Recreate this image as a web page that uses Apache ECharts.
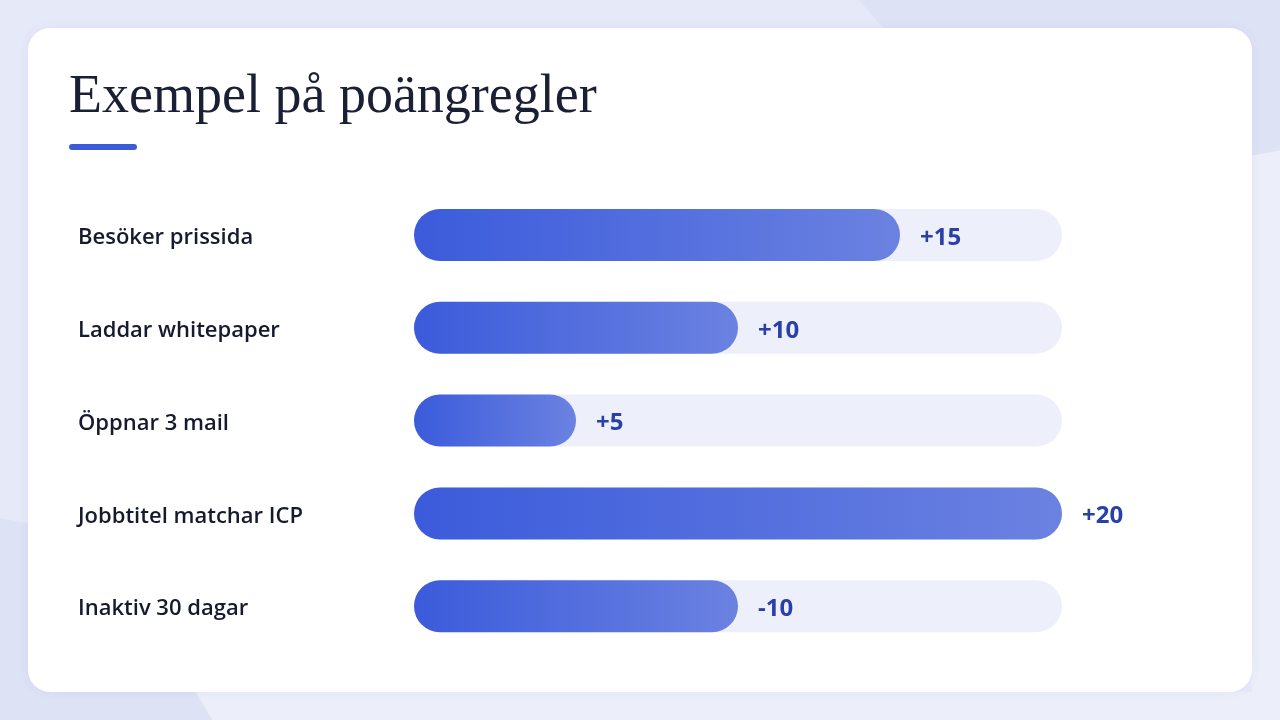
<!DOCTYPE html>
<html>
<head>
<meta charset="utf-8">
<script src="https://cdn.jsdelivr.net/npm/echarts@6/dist/echarts.min.js"></script>
<style>
html,body{margin:0;padding:0;background:#e6e9f8;}
#chart{width:1280px;height:720px;}
</style>
</head>
<body>
<div id="chart"></div>
<script>
const titleText = 'Exempel på poängregler';
const categories = ['Besöker prissida', 'Laddar whitepaper', 'Öppnar 3 mail', 'Jobbtitel matchar ICP', 'Inaktiv 30 dagar'];
const points = [15, 10, 5, 20, -10];
const axisMax = 20;

const chart = echarts.init(document.getElementById('chart'), null, {renderer: 'canvas'});

const barData = points.map(function (v) {
  return {
    value: Math.abs(v),
    itemStyle: {
      color: new echarts.graphic.LinearGradient(0, 0, 1, 0, [
        {offset: 0, color: '#3b5bdb'},
        {offset: 1, color: '#6b82e1'}
      ])
    }
  };
});

const option = {
  backgroundColor: '#e6e9f8',
  animation: false,
  graphic: [
    {type: 'polygon', z: -12, shape: {points: [[212, 720], [197, 692], [1252, 692], [1252, 150], [1280, 140], [1280, 720]]}, style: {fill: '#eceff9'}},
    {type: 'circle', z: -11, shape: {cx: 1190, cy: -262, r: 422}, style: {fill: '#dee2f5'}},
    {type: 'polygon', z: -10, shape: {points: [[0, 518], [60, 530], [195, 692], [212, 720], [0, 720]]}, style: {fill: '#dde2f5'}},
    {type: 'rect', z: -5, shape: {x: 28, y: 28, width: 1224, height: 664, r: 22},
      style: {fill: '#ffffff', shadowBlur: 12, shadowColor: 'rgba(60,80,160,0.06)'}},
    {type: 'text', z: 5, left: 69, top: 71,
      style: {text: titleText, font: '400 54px "Liberation Serif", serif', fill: '#1a1f36'}},
    {type: 'rect', z: 5, shape: {x: 69, y: 144, width: 68, height: 6, r: 3}, style: {fill: '#3b5bdb'}}
  ],
  grid: {left: 414, right: 218, top: 188.6, bottom: 67.4, containLabel: false},
  xAxis: {
    type: 'value', min: 0, max: axisMax, interval: 5,
    show: false
  },
  yAxis: {
    type: 'category', data: categories, inverse: true,
    axisLine: {show: false}, axisTick: {show: false}, splitLine: {show: false},
    axisLabel: {
      align: 'left', margin: 336,
      verticalAlign: 'top', lineHeight: 6,
      color: '#161a2e', fontSize: 22, fontWeight: 600,
      fontFamily: '"Open Sans", Lato, sans-serif'
    }
  },
  series: [{
    type: 'bar',
    data: barData,
    barWidth: 52,
    showBackground: true,
    backgroundStyle: {color: '#edf0fb', borderRadius: 26},
    itemStyle: {borderRadius: 26},
    label: {
      show: true, position: 'right', distance: 20,
      offset: [0, 3],
      color: '#2a40a8', fontSize: 24, fontWeight: 700,
      fontFamily: '"Open Sans", Lato, sans-serif',
      formatter: function (p) {
        const v = points[p.dataIndex];
        return (v > 0 ? '+' : '') + v;
      }
    }
  }]
};
chart.setOption(option);
</script>
</body>
</html>
